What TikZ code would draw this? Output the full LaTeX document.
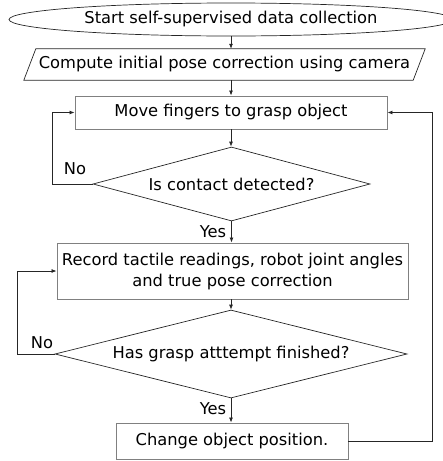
\documentclass[tikz,border=0pt]{standalone}
\usepackage{fontspec}
\setmainfont{DejaVu Sans}
\usetikzlibrary{shapes.geometric,arrows.meta,calc}
\begin{document}
\begin{tikzpicture}[x=1pt,y=-1pt,
  every node/.style={font=\fontsize{16.3}{21}\selectfont, inner sep=0pt, text=black},
  procbox/.style={draw=black!50, line width=0.9pt, rectangle, align=center},
  decision/.style={draw=black!85, line width=0.7pt, diamond},
  term/.style={draw=black!85, line width=0.7pt, ellipse},
  conn/.style={draw=black!85, line width=0.8pt, -{Latex[length=5pt,width=4pt]}},
  loopline/.style={draw=black!85, line width=0.8pt, -{Latex[length=5pt,width=4pt]}},
  lbl/.style={}
]
\useasboundingbox (0,0) rectangle (443,461);

\node[term, minimum width=444, minimum height=33] (start) at (231,19.5) {Start self-supervised data collection};

\node[minimum width=389, minimum height=31] (par) at (224.5,64.5) {Compute initial pose correction using camera};
\draw[draw=black!85, line width=0.7pt]
  ($(par.south west)+(-6,0)$) -- ($(par.north west)+(6,0)$) --
  ($(par.north east)+(6,0)$) -- ($(par.south east)+(-6,0)$) -- cycle;

\node[procbox, minimum width=312, minimum height=33] (move) at (231,112.5) {Move fingers to grasp object};

\node[decision, shape aspect=3.74, minimum width=277, minimum height=74] (contact) at (231.5,184) {Is contact detected?};

\node[procbox, minimum width=351, minimum height=56] (record) at (232.5,271)
  {Record tactile readings, robot joint angles\\and true pose correction};

\node[decision, shape aspect=4, minimum width=352, minimum height=88] (finished) at (231,354) {Has grasp atttempt finished?};

\node[procbox, minimum width=232, minimum height=36] (change) at (232,441) {Change object position.};

% labels
\node[lbl] (no1) at (75,168.5) {No};
\node[lbl] (yes1) at (213,232) {Yes};
\node[lbl] (no2) at (42,342.5) {No};
\node[lbl] (yes2) at (213,408.5) {Yes};

% connectors
\draw[conn] (start.south -| move.north) -- (par.north -| move.north);
\draw[conn] (par.south -| move.north) -- (move.north);
\draw[conn] (move.south) -- (contact.north -| move.south);
\draw[conn] (contact.south) -- (record.north -| contact.south);
\draw[conn] (record.south -| finished.north) -- (finished.north);
\draw[conn] (finished.south) -- (change.north -| finished.south);

\draw[loopline] (contact.west) -- (52,184) |- (move.west);
\draw[loopline] (finished.west) -- (17,354) |- (record.west);
\draw[loopline] (change.east) -- (432,441) |- (move.east);
\end{tikzpicture}
\end{document}
